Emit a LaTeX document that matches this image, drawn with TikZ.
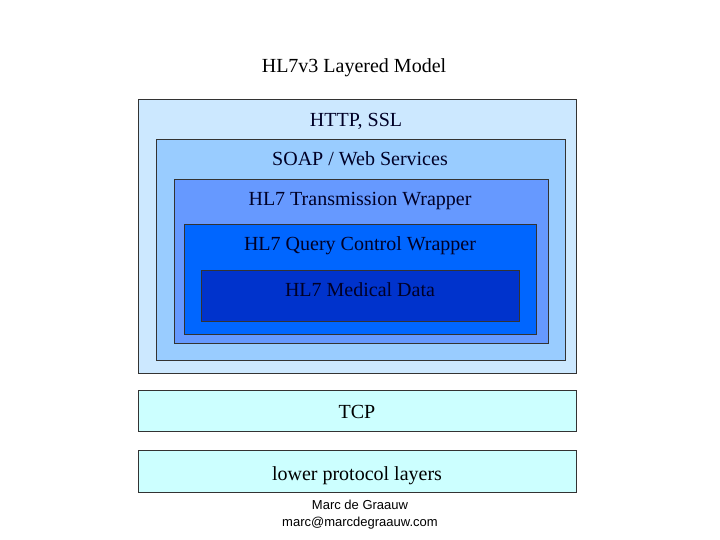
\documentclass[tikz,border=0pt]{standalone}
\usepackage{fontspec}
\setmainfont{Liberation Serif}
\newfontfamily\arialf{Liberation Sans}
\begin{document}
\begin{tikzpicture}[x=1pt,y=-1pt,
 box/.style={draw=black!80,line width=0.8pt},
 lab/.style={font=\fontsize{20}{22}\selectfont,anchor=base,text=black!85!blue}]
\useasboundingbox (0,0) rectangle (720,540);
\fill[white] (0,0) rectangle (720,540);
\node[lab,text=black] (title) at (354,73) {HL7v3 Layered Model};
\draw[box,fill={rgb,255:red,204;green,232;blue,255}] (138,99) rectangle (576,373);
\draw[box,fill={rgb,255:red,153;green,204;blue,255}] (156,139) rectangle (565,360);
\draw[box,fill={rgb,255:red,102;green,153;blue,255}] (174,179) rectangle (548,343);
\draw[box,fill={rgb,255:red,0;green,102;blue,255}] (184,224) rectangle (536,334);
\draw[box,fill={rgb,255:red,0;green,51;blue,204}] (201,270) rectangle (519,321);
\node[lab] (http) at (356,127) {HTTP, SSL};
\node[lab] (soap) at (360,166) {SOAP / Web Services};
\node[lab] (tw) at (360,206) {HL7 Transmission Wrapper};
\node[lab] (qc) at (360,250) {HL7 Query Control Wrapper};
\node[lab] (md) at (360,296) {HL7 Medical Data};
\draw[box,fill={rgb,255:red,204;green,255;blue,255}] (138,390) rectangle (576,431);
\node[lab,text=black] (tcp) at (357,418) {TCP};
\draw[box,fill={rgb,255:red,204;green,255;blue,255}] (138,450) rectangle (576,492);
\node[lab,text=black] (low) at (357,480) {lower protocol layers};
\node[font=\arialf\fontsize{13}{14}\selectfont,anchor=base] (a1) at (360,509) {Marc de Graauw};
\node[font=\arialf\fontsize{13}{14}\selectfont,anchor=base] (a2) at (360,526) {marc@marcdegraauw.com};
\end{tikzpicture}
\end{document}
